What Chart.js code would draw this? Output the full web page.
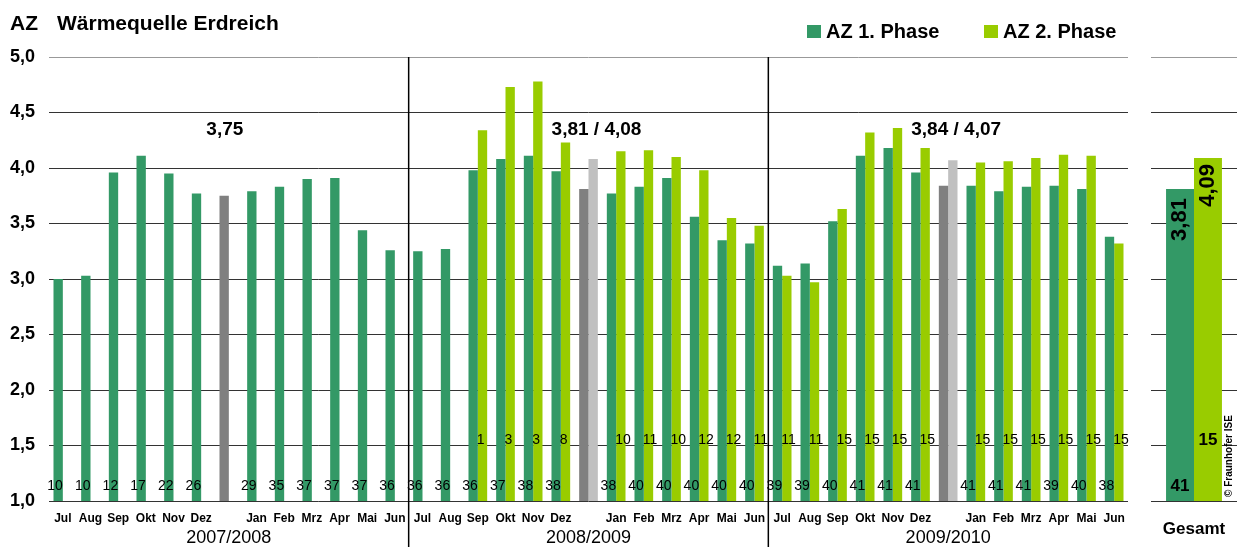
<!DOCTYPE html>
<html>
<head>
<meta charset="utf-8">
<script src="https://cdn.jsdelivr.net/npm/chart.js@4"></script>
<style>
  body { margin: 0; background: #fff; }
  #wrap { position: relative; width: 1237px; height: 547px; }
  #mainChart { position: absolute; left: 0; top: 0; }
  #totalChart { position: absolute; left: 1140px; top: 0; }
</style>
</head>
<body>
<div id="wrap">
  <canvas id="mainChart" width="1237" height="547"></canvas>
  <canvas id="totalChart" width="97" height="547"></canvas>
</div>
<script>
// Chart data
var months = ['Jul', 'Aug', 'Sep', 'Okt', 'Nov', 'Dez', '', 'Jan', 'Feb', 'Mrz', 'Apr', 'Mai', 'Jun'];
var seasons = ['2007/2008', '2008/2009', '2009/2010'];
var seasonAverages = ['3,75', '3,81 / 4,08', '3,84 / 4,07'];
var seriesNames = ['AZ 1. Phase', 'AZ 2. Phase'];

// 13 slots per season: Jul..Dez, season average, Jan..Jun
var phase1Values = [
  3.00, 3.03, 3.96, 4.11, 3.95, 3.77, 3.75, 3.79, 3.83, 3.90, 3.91, 3.44, 3.26,
  3.25, 3.27, 3.98, 4.08, 4.11, 3.97, 3.81, 3.77, 3.83, 3.91, 3.56, 3.35, 3.32,
  3.12, 3.14, 3.52, 4.11, 4.18, 3.96, 3.84, 3.84, 3.79, 3.83, 3.84, 3.81, 3.38
];
var phase2Values = [
  null, null, null, null, null, null, null, null, null, null, null, null, null,
  null, null, 4.34, 4.73, 4.78, 4.23, 4.08, 4.15, 4.16, 4.10, 3.98, 3.55, 3.48,
  3.03, 2.97, 3.63, 4.32, 4.36, 4.18, 4.07, 4.05, 4.06, 4.09, 4.12, 4.11, 3.32
];
var phase1Counts = [
  10, 10, 12, 17, 22, 26, null, 29, 35, 37, 37, 37, 36,
  36, 36, 36, 37, 38, 38, null, 38, 40, 40, 40, 40, 40,
  39, 39, 40, 41, 41, 41, null, 41, 41, 41, 39, 40, 38
];
var phase2Counts = [
  null, null, null, null, null, null, null, null, null, null, null, null, null,
  null, null, 1, 3, 3, 8, null, 10, 11, 10, 12, 12, 11,
  11, 11, 15, 15, 15, 15, null, 15, 15, 15, 15, 15, 15
];

var totalLabels = ['Gesamt'];
var totalPhase1 = [3.81];
var totalPhase2 = [4.09];
var totalCount1 = [41];
var totalCount2 = [15];
var totalText1 = ['3,81'];
var totalText2 = ['4,09'];

var yMin = 1, yMax = 5, yStep = 0.5;

// styling
var FONT = '"Liberation Sans", Arial, sans-serif';
var DARK = '#339966', LIGHT = '#99cc00', GRAY = '#808080', LIGHTGRAY = '#c0c0c0';
var SLOTS = months.length;
var avgShift = [-4, 8, 8];

var categories = [];
seasons.forEach(function () { months.forEach(function (m) { categories.push(m); }); });

function isAvg(i) { return i % SLOTS === 6; }

function gridColor(c) { return c.tick && c.tick.value === yMax ? '#999' : '#333'; }

function noSidePadding(s) { s.paddingLeft = 0; s.paddingRight = 0; s.height = 46; }

var mainPlugin = {
  id: 'mainDecor',
  afterDraw: function (chart) {
    var ctx = chart.ctx, x = chart.scales.x, y = chart.scales.y, area = chart.chartArea;
    ctx.save();

    // season separators
    ctx.strokeStyle = '#000';
    ctx.lineWidth = 1.5;
    [SLOTS, SLOTS * 2].forEach(function (i) {
      var px = (x.getPixelForTick(i - 1) + x.getPixelForTick(i)) / 2;
      ctx.beginPath();
      ctx.moveTo(px, area.top);
      ctx.lineTo(px, chart.height);
      ctx.stroke();
    });

    // number of systems per month
    var m1 = chart.getDatasetMeta(0), m2 = chart.getDatasetMeta(1);
    ctx.fillStyle = '#000';
    ctx.textBaseline = 'middle';
    ctx.font = '14px ' + FONT;
    phase1Counts.forEach(function (c, i) {
      if (c == null) return;
      var b = m1.data[i];
      ctx.textAlign = 'right';
      ctx.fillText(String(c), b.x + b.width / 2, y.getPixelForValue(1.135));
    });
    phase2Counts.forEach(function (c, i) {
      if (c == null) return;
      var b = m2.data[i];
      ctx.textAlign = 'left';
      ctx.fillText(String(c), b.x - b.width / 2 - 1, y.getPixelForValue(1.55));
    });

    // season averages and season names
    seasons.forEach(function (s, p) {
      var cx = x.getPixelForTick(p * SLOTS + 6);
      ctx.textAlign = 'center';
      ctx.font = 'bold 19px ' + FONT;
      ctx.fillText(seasonAverages[p], cx + avgShift[p], y.getPixelForValue(4.34));
      ctx.font = '18px ' + FONT;
      ctx.fillText(s, cx, 538);
    });

    // title
    ctx.textBaseline = 'alphabetic';
    ctx.textAlign = 'left';
    ctx.font = 'bold 21px ' + FONT;
    ctx.fillText('AZ', 10, 30);
    ctx.fillText('Wärmequelle Erdreich', 57, 30);

    // legend
    ctx.font = 'bold 20px ' + FONT;
    [[807, DARK], [984, LIGHT]].forEach(function (l, k) {
      ctx.fillStyle = l[1];
      ctx.fillRect(l[0], 25, 14, 13);
      ctx.fillStyle = '#000';
      ctx.fillText(seriesNames[k], l[0] + 19, 38);
    });
    ctx.restore();
  }
};

new Chart(document.getElementById('mainChart'), {
  type: 'bar',
  data: {
    labels: categories,
    datasets: [
      {
        label: seriesNames[0],
        data: phase1Values,
        backgroundColor: function (c) { return isAvg(c.dataIndex) ? GRAY : DARK; }
      },
      {
        label: seriesNames[1],
        data: phase2Values,
        backgroundColor: function (c) { return isAvg(c.dataIndex) ? LIGHTGRAY : LIGHT; }
      }
    ]
  },
  options: {
    responsive: false,
    animation: false,
    devicePixelRatio: 1,
    layout: { padding: { left: 0, right: 109, top: 57, bottom: 0 } },
    datasets: { bar: { categoryPercentage: 0.675, barPercentage: 1 } },
    plugins: { legend: { display: false }, tooltip: { enabled: false } },
    scales: {
      x: {
        grid: { display: false },
        border: { display: false },
        ticks: {
          autoSkip: false, maxRotation: 0, padding: 2, color: '#000',
          font: { family: FONT, size: 12, weight: 'bold' }
        },
        afterFit: noSidePadding
      },
      y: {
        min: yMin, max: yMax,
        ticks: {
          stepSize: yStep, padding: 14, color: '#000',
          font: { family: FONT, size: 18, weight: 'bold' },
          callback: function (v) { return v.toFixed(1).replace('.', ','); }
        },
        grid: { color: gridColor, drawTicks: false },
        border: { display: false },
        afterFit: function (s) { s.width = 49; }
      }
    }
  },
  plugins: [mainPlugin]
});

var totalPlugin = {
  id: 'totalDecor',
  afterDraw: function (chart) {
    var ctx = chart.ctx, y = chart.scales.y;
    var m1 = chart.getDatasetMeta(0), m2 = chart.getDatasetMeta(1);
    ctx.save();
    ctx.fillStyle = '#000';

    // counts
    ctx.textAlign = 'center';
    ctx.textBaseline = 'middle';
    ctx.font = 'bold 17px ' + FONT;
    ctx.fillText(String(totalCount1[0]), m1.data[0].x, y.getPixelForValue(1.135));
    ctx.fillText(String(totalCount2[0]), m2.data[0].x, y.getPixelForValue(1.55));

    // rotated values at the top of the bars
    ctx.font = 'bold 22px ' + FONT;
    [[m1.data[0], totalText1[0], 9], [m2.data[0], totalText2[0], 6]].forEach(function (t) {
      ctx.save();
      ctx.translate(t[0].x, t[0].y + t[2]);
      ctx.rotate(-Math.PI / 2);
      ctx.textAlign = 'right';
      ctx.fillText(t[1], 0, 0);
      ctx.restore();
    });

    // copyright
    ctx.save();
    ctx.translate(89, 497);
    ctx.rotate(-Math.PI / 2);
    ctx.textAlign = 'left';
    ctx.font = 'bold 10px ' + FONT;
    ctx.fillText('© Fraunhofer ISE', 0, 0);
    ctx.restore();

    ctx.restore();
  }
};

new Chart(document.getElementById('totalChart'), {
  type: 'bar',
  data: {
    labels: totalLabels,
    datasets: [
      { label: seriesNames[0], data: totalPhase1, backgroundColor: DARK },
      { label: seriesNames[1], data: totalPhase2, backgroundColor: LIGHT }
    ]
  },
  options: {
    responsive: false,
    animation: false,
    devicePixelRatio: 1,
    layout: { padding: { left: 11, right: 0, top: 57, bottom: 0 } },
    datasets: { bar: { categoryPercentage: 0.65, barPercentage: 1 } },
    plugins: { legend: { display: false }, tooltip: { enabled: false } },
    scales: {
      x: {
        grid: { display: false },
        border: { display: false },
        ticks: {
          padding: 10, color: '#000',
          font: { family: FONT, size: 17, weight: 'bold' }
        },
        afterFit: noSidePadding
      },
      y: {
        min: yMin, max: yMax,
        ticks: { stepSize: yStep, display: false },
        grid: { color: gridColor, drawTicks: false },
        border: { display: false },
        afterFit: function (s) { s.width = 0; }
      }
    }
  },
  plugins: [totalPlugin]
});
</script>
</body>
</html>
